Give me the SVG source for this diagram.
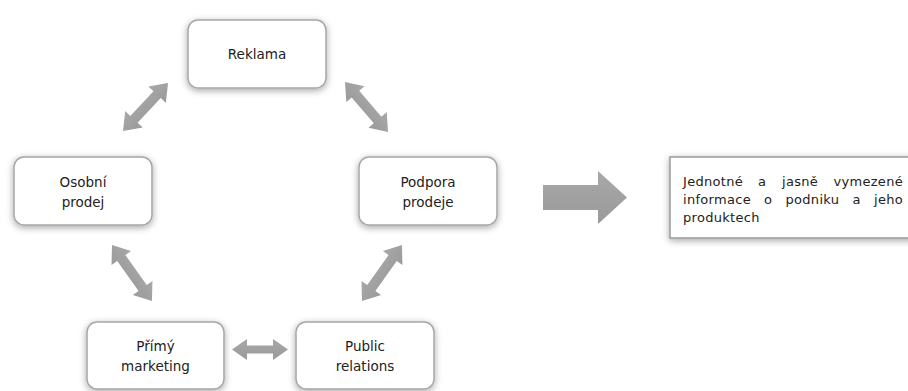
<svg xmlns="http://www.w3.org/2000/svg" width="908" height="391" viewBox="0 0 908 391">
<style>
.box{fill:#fff;stroke:#a6a6a6;stroke-width:1.5;filter:url(#sh)}
.lbl{font-family:"DejaVu Sans",Verdana,sans-serif;font-size:13.5px;fill:#222;text-anchor:middle}
.txt{font-family:"DejaVu Sans",Verdana,sans-serif;font-size:13px;fill:#222;letter-spacing:0.3px}
.arr{fill:url(#g)}
</style>
<defs>
<filter id="sh" x="-20%" y="-30%" width="140%" height="160%">
<feDropShadow dx="0" dy="2" stdDeviation="3.5" flood-color="#000" flood-opacity="0.35"/>
</filter>
<linearGradient id="g" x1="0" y1="0" x2="0" y2="1">
<stop offset="0" stop-color="#a8a8a8"/>
<stop offset="1" stop-color="#9a9a9a"/>
</linearGradient>
</defs>
<g id="connectors">
<path class="arr" transform="translate(123,131) rotate(-46.8)" d="M0,0 L16,-12 L16,-5 L49.8,-5 L49.8,-12 L65.8,0 L49.8,12 L49.8,5 L16,5 L16,12 Z"/>
<path class="arr" transform="translate(345,82) rotate(49.3)" d="M0,0 L16,-12 L16,-5 L50,-5 L50,-12 L66,0 L50,12 L50,5 L16,5 L16,12 Z"/>
<path class="arr" transform="translate(112,245) rotate(54.5)" d="M0,0 L16,-12 L16,-5 L52.8,-5 L52.8,-12 L68.8,0 L52.8,12 L52.8,5 L16,5 L16,12 Z"/>
<path class="arr" transform="translate(362,301) rotate(-54.5)" d="M0,0 L16,-12 L16,-5 L52.8,-5 L52.8,-12 L68.8,0 L52.8,12 L52.8,5 L16,5 L16,12 Z"/>
<path class="arr" transform="translate(232,349.5)" d="M0,0 L15,-10.5 L15,-4 L41,-4 L41,-10.5 L56,0 L41,10.5 L41,4 L15,4 L15,10.5 Z"/>
<path class="arr" d="M543,185 L598,185 L598,171 L627,197.5 L598,224 L598,210 L543,210 Z"/>
</g>
<g id="reklama">
<rect class="box" x="188" y="20" width="138" height="68" rx="10"/>
<text class="lbl" x="257" y="59">Reklama</text>
</g>
<g id="osobni-prodej">
<rect class="box" x="14" y="157" width="138" height="68" rx="10"/>
<text class="lbl" x="83" y="187">Osobní</text>
<text class="lbl" x="83" y="207">prodej</text>
</g>
<g id="podpora-prodeje">
<rect class="box" x="359" y="157" width="138" height="68" rx="10"/>
<text class="lbl" x="428" y="187">Podpora</text>
<text class="lbl" x="428" y="207">prodeje</text>
</g>
<g id="primy-marketing">
<rect class="box" x="87" y="322" width="137" height="67" rx="10"/>
<text class="lbl" x="155.5" y="351">Přímý</text>
<text class="lbl" x="155.5" y="371">marketing</text>
</g>
<g id="public-relations">
<rect class="box" x="296" y="322" width="138" height="67" rx="10"/>
<text class="lbl" x="365" y="351">Public</text>
<text class="lbl" x="365" y="371">relations</text>
</g>
<g id="vysledek">
<rect class="box" x="670" y="157" width="250" height="81" style="stroke:#999"/>
<text class="txt" y="186"><tspan x="683">Jednotné</tspan><tspan x="758">a</tspan><tspan x="782">jasně</tspan></text>
<text class="txt" y="186" x="903" text-anchor="end">vymezené</text>
<text class="txt" y="204"><tspan x="683">informace</tspan><tspan x="764">o</tspan><tspan x="785.5">podniku</tspan><tspan x="852.5">a</tspan></text>
<text class="txt" y="204" x="903" text-anchor="end">jeho</text>
<text class="txt" y="222"><tspan x="683">produktech</tspan></text>
</g>
</svg>
